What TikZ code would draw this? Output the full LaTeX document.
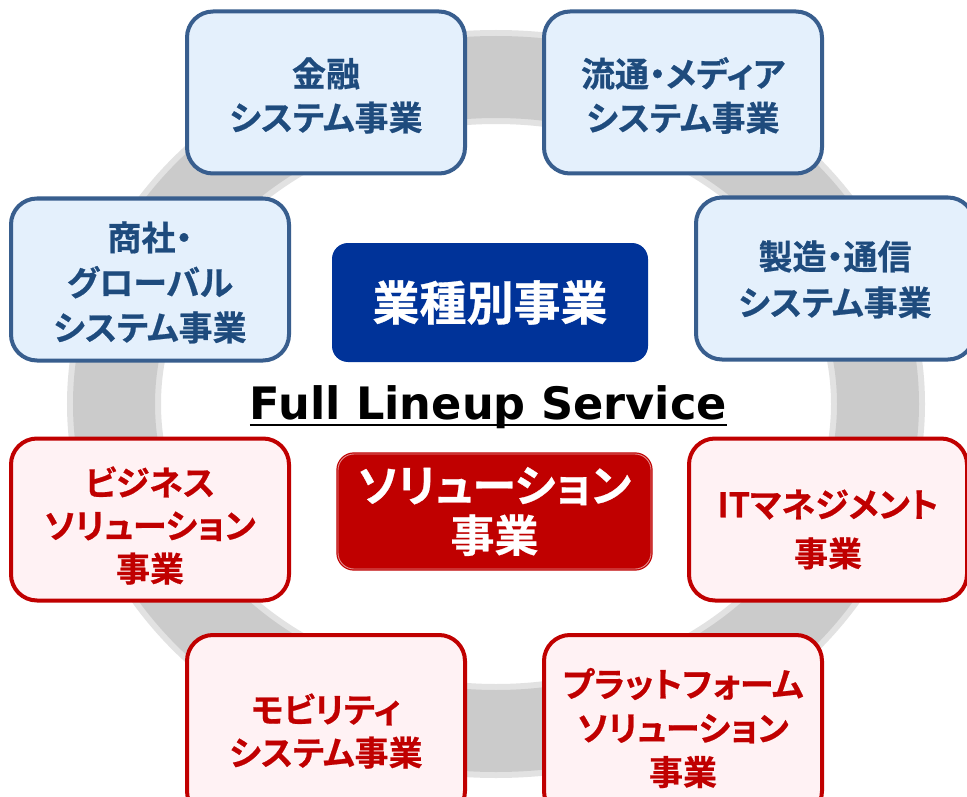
\documentclass[tikz,border=0pt]{standalone}
\usepackage{fontspec}
\newfontfamily\jp[CharacterWidth=AlternateProportional,BoldFont={* Bold},BoldFeatures={FakeBold=0.6}]{Noto Sans CJK JP}
\newfontfamily\flsfont[BoldFont={* Bold}]{DejaVu Sans}
\definecolor{bborder}{RGB}{56,94,142}
\definecolor{bfill}{RGB}{228,240,252}
\definecolor{btext}{RGB}{30,75,125}
\definecolor{navy}{RGB}{0,51,153}
\definecolor{rred}{RGB}{192,0,0}
\definecolor{rfill}{RGB}{255,242,244}
\definecolor{ringgray}{RGB}{203,203,203}
\definecolor{ringedge}{RGB}{226,226,226}
\begin{document}
\begin{tikzpicture}[x=1pt,y=-1pt,
  outerbox/.style={line width=4pt, rounded corners=26pt, minimum width=278pt,
    minimum height=162pt, inner sep=0pt},
  bluebox/.style={outerbox, draw=bborder, fill=bfill},
  redbox/.style={outerbox, draw=rred, fill=rfill},
  boxtext/.style={inner sep=0pt, align=center,
    font=\jp\bfseries\fontsize{34}{#1}\selectfont},
  btxt/.style={boxtext=#1, text=btext},
  rtxt/.style={boxtext=#1, text=rred},
  centerbox/.style={rounded corners=16pt, inner sep=0pt, align=center, text=white,
    font=\jp\bfseries\fontsize{#1}{50}\selectfont},
  ring/.style={line width=#1}
]
\clip (0,0) rectangle (967,797);
\fill[white] (0,0) rectangle (967,797);
% ring
\draw[ring=94pt, draw=ringedge] (496,404) ellipse [x radius=382, y radius=327];
\draw[ring=82pt, draw=ringgray] (496,404) ellipse [x radius=382, y radius=327];
% blue boxes
\node[bluebox] (kinyu) at (326,92.5) {};
\node[btxt=44] (kinyu-t) at ([yshift=-3pt]kinyu.center) {金融\\システム事業};
\node[bluebox] (ryutsu) at (683,92.5) {};
\node[btxt=44] (ryutsu-t) at ([yshift=-3pt]ryutsu.center) {流通・メディア\\システム事業};
\node[bluebox] (shosha) at (150,279.5) {};
\node[btxt=45] (shosha-t) at ([yshift=-3pt]shosha.center) {商社・\\グローバル\\システム事業};
\node[bluebox] (seizo) at (835,278.5) {};
\node[btxt=46] (seizo-t) at ([yshift=-1pt]seizo.center) {製造・通信\\システム事業};
% red boxes
\node[redbox] (business) at (150,519.5) {};
\node[rtxt=43] (business-t) at ([yshift=-6pt]business.center) {ビジネス\\ソリューション\\事業};
\node[redbox] (itm) at (828,519.5) {};
\node[rtxt=49] (itm-t) at ([yshift=-10pt]itm.center) {ITマネジメント\\事業};
\node[redbox, minimum height=182pt] (mobility) at (326,726) {};
\node[rtxt=43] (mobility-t) at ([yshift=-5pt]mobility.center) {モビリティ\\システム事業};
\node[redbox, minimum height=182pt] (platform) at (683,726) {};
\node[rtxt=44] (platform-t) at ([yshift=-2pt]platform.center) {プラットフォーム\\ソリューション\\事業};
% centre boxes
\node[centerbox=47, fill=navy, minimum width=316pt, minimum height=119pt] (gyoshu) at (490,302.5) {業種別事業};
\node[centerbox=44, fill=rred, draw=rred, line width=1.2pt, double=rred!45!white, double distance=0.9pt,
  minimum width=313pt, minimum height=115pt] (solution) at (494.5,511.5) {ソリューション\\事業};
% title
\node[inner sep=0pt, anchor=base] (fls) at (488.5,419)
  {\resizebox{477pt}{!}{\flsfont\bfseries Full Lineup Service}};
\draw[line width=2.5pt] ([yshift=-6pt]fls.base west) -- ([yshift=-6pt]fls.base east);
\end{tikzpicture}
\end{document}
